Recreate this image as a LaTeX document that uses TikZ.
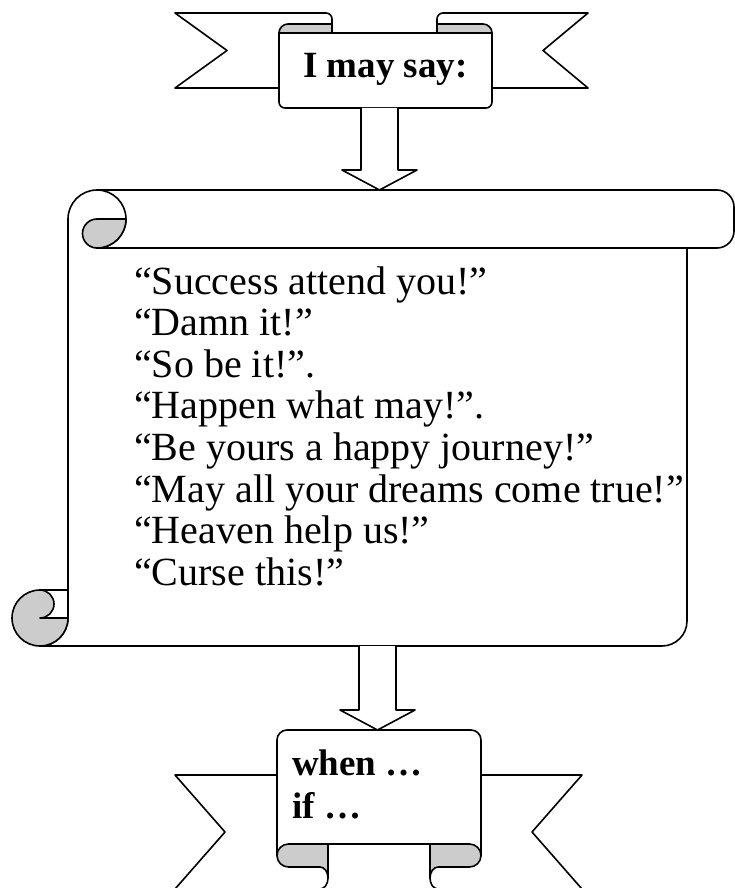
\documentclass[tikz,border=0pt]{standalone}
\usepackage{fontspec}
\setmainfont{Liberation Serif}
\usetikzlibrary{calc,positioning}

\tikzset{
  outline/.style={line width=1.6pt,line join=round,line cap=round},
  fold/.style={outline,fill=black!20},
  paper/.style={outline,fill=white},
  title/.style={font=\bfseries\fontsize{37}{42}\selectfont,inner sep=0pt},
  saying/.style={font=\fontsize{40}{44}\selectfont,inner sep=0pt,anchor=base west},
}
\newcommand{\blockarrow}[2]{%
  \draw[paper] ($(#1)+(-18.5,0)$) -- ($(#2)+(-18.5,-20)$) -- ($(#2)+(-37.5,-20)$)
    -- (#2) -- ($(#2)+(37.5,-20)$) -- ($(#2)+(18.5,-20)$) -- ($(#1)+(18.5,0)$);}

\begin{document}
\begin{tikzpicture}[x=1pt,y=-1pt]
  \useasboundingbox (0,0) rectangle (735,888);
  \clip (0,0) rectangle (735,888);

  % top ribbon
  \draw[outline] (279,88) -- (175,88) -- (227,50.5) -- (175,13) -- (326,13) arc[start angle=-90,end angle=0,radius=6] -- (332,33);
  \draw[outline] (492,88) -- (588,88) -- (543,50.5) -- (588,13) -- (443,13) arc[start angle=-90,end angle=-180,radius=6] -- (437,33);
  \draw[paper] (279,33) -- (279,102) arc[start angle=180,end angle=90,radius=6] -- (486,108) arc[start angle=90,end angle=0,radius=6] -- (492,33) -- cycle;
  \draw[fold] (332,33) -- (332,24) -- (288,24) arc[start angle=-90,end angle=-180,radius=9] -- cycle;
  \draw[fold] (437,33) -- (437,24) -- (483,24) arc[start angle=-90,end angle=0,radius=9] -- cycle;
  \node[title,anchor=base] (say) at (385.5,78) {I may say:};

  % scroll
  \draw[paper] (68,219) -- (68,618) arc[start angle=0,end angle=90,radius=28] -- (662,646) arc[start angle=90,end angle=0,radius=25] -- (687,248);
  \draw[paper] (97,248) -- (717,248) arc[start angle=90,end angle=0,radius=17] -- (734,207) arc[start angle=0,end angle=-90,radius=17] -- (97,190);
  \draw[outline] (97,248) arc[start angle=90,end angle=-180,radius=29];
  \draw[fold] (126,219) -- (97,219) arc[start angle=-90,end angle=-270,radius=14.5] arc[start angle=90,end angle=0,radius=29] -- cycle;
  \draw[fold] (40,618) circle[radius=28];
  \draw[paper] (68,590) -- (40,590) arc[start angle=-90,end angle=90,radius=14] -- (68,618) -- cycle;

  \coordinate (saybot) at (379.5,108);
  \coordinate (scrolltop) at (379.5,190);
  \blockarrow{saybot}{scrolltop}

  \foreach \txt [count=\i] in {“Success attend you!”,“Damn it!”,“So be it!”.,“Happen what may!”.,“Be yours a happy journey!”,“May all your dreams come true!”,“Heaven help us!”,“Curse this!”}
    \node[saying] (line\i) at (134,{294+41.6*(\i-1)}) {\txt};

  % bottom ribbon
  \draw[outline] (277,775) -- (175,775) -- (225,832) -- (175,889);
  \draw[outline] (481,775) -- (582,775) -- (532,832) -- (582,889);
  \draw[paper] (277,856) -- (277,740) arc[start angle=180,end angle=270,radius=10] -- (471,730) arc[start angle=270,end angle=360,radius=10] -- (481,856);
  \draw[outline] (328,844) -- (430,844);
  \draw[fold] (328,844) -- (288.5,844) arc[start angle=-90,end angle=-270,radius=11.5] -- (320,867) arc[start angle=-90,end angle=0,x radius=8,y radius=11] -- cycle;
  \draw[outline] (328,878) arc[start angle=0,end angle=90,x radius=8,y radius=11];
  \draw[fold] (430,844) -- (469.5,844) arc[start angle=-90,end angle=90,radius=11.5] -- (438,867) arc[start angle=-90,end angle=-180,x radius=8,y radius=11] -- cycle;
  \draw[outline] (430,878) arc[start angle=180,end angle=90,x radius=8,y radius=11];

  \coordinate (scrollbot) at (377.5,646);
  \coordinate (whentop) at (377.5,730);
  \blockarrow{scrollbot}{whentop}
  \node[title,anchor=base west] (when) at (292,775) {when …};
  \node[title,anchor=base west] (iff) at (292,818) {if …};
\end{tikzpicture}
\end{document}
